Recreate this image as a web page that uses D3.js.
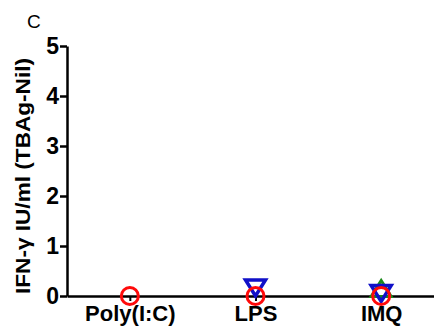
<!DOCTYPE html>
<html>
<head>
<meta charset="utf-8">
<script src="https://cdn.jsdelivr.net/npm/d3@7"></script>
<style>
  html, body { margin: 0; padding: 0; background: #fff; }
  svg { display: block; font-family: "Liberation Sans", Arial, sans-serif; }
</style>
</head>
<body>
<svg id="chart" width="434" height="332"></svg>
<script>
// Stimulation conditions on the x axis
const categories = ["Poly(I:C)", "LPS", "IMQ"];
// IFN-γ response per condition, one array per marker series
const redCircleValues = [0, 0, 0];
const blueTriangleDownValues = [null, 0.16, 0.05];
const greenTriangleUpValues = [null, null, 0.15];
// y axis ticks
const yTicks = [0, 1, 2, 3, 4, 5];
const yLabel = "IFN-γ IU/ml (TBAg-Nil)";
const panelLetter = "C";

const svg = d3.select("#chart");
const plotLeft = 67, plotBottom = 296, plotTop = 46, plotRight = 444;

const x = d3.scalePoint().domain(categories).range([plotLeft, plotRight]).padding(0.5);
const y = d3.scaleLinear().domain([0, 5]).range([plotBottom, plotTop]);

// panel letter
svg.append("text")
  .attr("x", 27).attr("y", 28)
  .attr("font-size", 19)
  .text(panelLetter);

// y axis
const yAxis = svg.append("g")
  .attr("transform", `translate(${plotLeft},0)`)
  .call(d3.axisLeft(y).tickValues(yTicks).tickFormat(d3.format("d")).tickSize(7).tickSizeOuter(0));
yAxis.select(".domain").attr("stroke", "#000").attr("stroke-width", 2.5);
yAxis.selectAll(".tick line").attr("stroke", "#000").attr("stroke-width", 2.5);
yAxis.selectAll(".tick text")
  .attr("x", -8)
  .attr("font-size", 23).attr("font-weight", "bold").attr("fill", "#000")
  .attr("font-family", "Liberation Sans, Arial, sans-serif");

// x axis
const xAxis = svg.append("g")
  .attr("transform", `translate(0,${plotBottom})`)
  .call(d3.axisBottom(x).tickSize(5).tickSizeOuter(0));
xAxis.select(".domain").attr("stroke", "#000").attr("stroke-width", 2.5);
xAxis.selectAll(".tick line").attr("stroke", "#000").attr("stroke-width", 2);
xAxis.selectAll(".tick text")
  .attr("y", 9)
  .attr("font-size", 22).attr("font-weight", "bold").attr("fill", "#000")
  .attr("font-family", "Liberation Sans, Arial, sans-serif");

// y axis title
svg.append("text")
  .attr("transform", `translate(30,176) rotate(-90)`)
  .attr("text-anchor", "middle")
  .attr("font-size", 21).attr("font-weight", "bold")
  .attr("textLength", 236).attr("lengthAdjust", "spacingAndGlyphs")
  .text(yLabel);

// marker shapes
const triW = 20, triH = 16;
const triDown = `M${-triW/2},${-triH/2}L${triW/2},${-triH/2}L0,${triH/2}Z`;
const triUp = `M0,${-triH/2}L${triW/2},${triH/2}L${-triW/2},${triH/2}Z`;

function points(values) {
  return categories.map((c, i) => ({ c, v: values[i] })).filter(d => d.v !== null);
}

const marks = svg.append("g");

marks.selectAll("path.up").data(points(greenTriangleUpValues)).join("path")
  .attr("class", "up")
  .attr("d", triUp)
  .attr("transform", d => `translate(${x(d.c)},${y(d.v)})`)
  .attr("fill", "none").attr("stroke", "#1a8a1a").attr("stroke-width", 3);

marks.selectAll("path.down").data(points(blueTriangleDownValues)).join("path")
  .attr("class", "down")
  .attr("d", triDown)
  .attr("transform", d => `translate(${x(d.c)},${y(d.v)})`)
  .attr("fill", "none").attr("stroke", "#1010c8").attr("stroke-width", 3.5);

marks.selectAll("circle").data(points(redCircleValues)).join("circle")
  .attr("cx", d => x(d.c)).attr("cy", d => y(d.v))
  .attr("r", 8.5)
  .attr("fill", "none").attr("stroke", "#ff0a0a").attr("stroke-width", 3);
</script>
</body>
</html>
